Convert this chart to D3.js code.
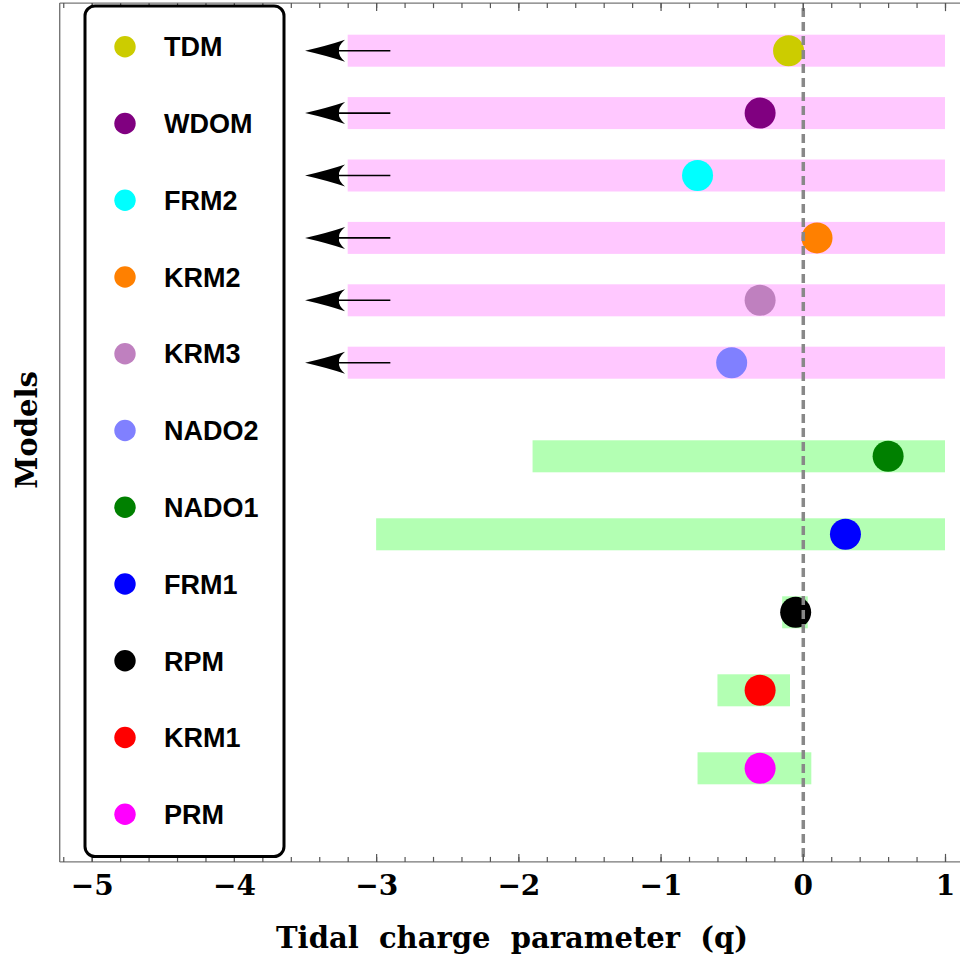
<!DOCTYPE html>
<html>
<head>
<meta charset="utf-8">
<script src="https://cdn.jsdelivr.net/npm/d3@7"></script>
<style>
  body { margin: 0; background: #fff; }
  svg { display: block; }
</style>
</head>
<body>
<svg id="chart"></svg>
<script>
// models, top to bottom
const models = ["TDM", "WDOM", "FRM2", "KRM2", "KRM3", "NADO2", "NADO1", "FRM1", "RPM", "KRM1", "PRM"];
// vertical position of each row (plot units)
const rowPos = [10.2, 9.4, 8.6, 7.8, 7.0, 6.2, 5, 4, 3, 2, 1];
// best fit q
const qBest = [-0.1, -0.3, -0.74, 0.1, -0.3, -0.5, 0.6, 0.3, -0.05, -0.3, -0.3];
// allowed range of q
const qLow = [-3.2, -3.2, -3.2, -3.2, -3.2, -3.2, -1.9, -3.0, -0.145, -0.6, -0.74];
const qHigh = [1, 1, 1, 1, 1, 1, 1, 1, 0.035, -0.09, 0.06];
// range open towards negative q (drawn with an arrow)
const openLow = [true, true, true, true, true, true, false, false, false, false, false];
const arrowFrom = -2.9;
const arrowTo = -3.5;
const pointColors = ["#cccc00", "#800080", "#00ffff", "#ff8000", "#bf80bf", "#8080ff",
                     "#008000", "#0000ff", "#000000", "#ff0000", "#ff00ff"];
const majorTicks = [-5, -4, -3, -2, -1, 0, 1];
const minorTicks = d3.range(-26, 6).map(i => i / 5);

const width = 960;
const height = 965;

const svg = d3.select("#chart").attr("width", width).attr("height", height);

const x = d3.scaleLinear().domain([-5, 1]).range([91.7, 945]);
const y = d3.scaleLinear().domain([1, 5]).range([768.3, 456.3]);

const xMin = -5.225, xMax = 1.115;
const yMin = -0.2, yMax = 10.81;

const rows = models.map((m, i) => ({
  name: m, pos: rowPos[i], best: qBest[i], lo: qLow[i], hi: qHigh[i],
  open: openLow[i], color: pointColors[i]
}));

// range bars
svg.append("g")
  .selectAll("rect")
  .data(rows)
  .enter()
  .append("rect")
  .attr("x", d => x(d.lo))
  .attr("y", d => y(d.pos) - 16)
  .attr("width", d => x(d.hi) - x(d.lo))
  .attr("height", 32)
  .attr("fill", d => d.open ? "#ffc8ff" : "#b3ffb3");

// arrows for open ranges
const arrows = svg.append("g")
  .selectAll("g")
  .data(rows.filter(d => d.open))
  .enter()
  .append("g");

arrows.append("line")
  .attr("x1", x(arrowFrom))
  .attr("x2", x(arrowTo) + 30)
  .attr("y1", d => y(d.pos))
  .attr("y2", d => y(d.pos))
  .attr("stroke", "#000")
  .attr("stroke-width", 1.6);

arrows.append("path")
  .attr("transform", d => `translate(${x(arrowTo)},${y(d.pos)})`)
  .attr("d", "M0,0 Q22,-5 40,-11 Q33,-5 34,0 Q33,5 40,11 Q22,5 0,0 Z")
  .attr("fill", "#000");

// best fit points
svg.append("g")
  .selectAll("circle")
  .data(rows)
  .enter()
  .append("circle")
  .attr("cx", d => x(d.best))
  .attr("cy", d => y(d.pos))
  .attr("r", 15.5)
  .attr("fill", d => d.color);

// q = 0 dashed line
svg.append("line")
  .attr("x1", x(0) + 0.5).attr("x2", x(0) + 0.5)
  .attr("y1", y(yMax) + 5).attr("y2", y(yMin))
  .attr("stroke", "#888")
  .attr("stroke-width", 3.5)
  .attr("stroke-dasharray", "9,5");

// frame
const frame = svg.append("g").attr("fill", "none").attr("stroke", "#777").attr("stroke-width", 1.4);
frame.append("line").attr("x1", x(xMin)).attr("x2", x(xMin)).attr("y1", y(yMax)).attr("y2", y(yMin));
frame.append("line").attr("x1", x(xMin)).attr("x2", x(xMax)).attr("y1", y(yMax)).attr("y2", y(yMax));
frame.append("line").attr("x1", x(xMin)).attr("x2", x(xMax)).attr("y1", y(yMin)).attr("y2", y(yMin));

// bottom axis
const bottomMajor = svg.append("g")
  .attr("transform", `translate(0,${y(yMin)})`)
  .call(d3.axisBottom(x).tickValues(majorTicks).tickSize(-8).tickSizeOuter(0).tickPadding(13).tickFormat(d3.format("d")));
const bottomMinor = svg.append("g")
  .attr("transform", `translate(0,${y(yMin)})`)
  .call(d3.axisBottom(x).tickValues(minorTicks).tickSize(-5).tickSizeOuter(0).tickFormat(""));

// top axis
const topMajor = svg.append("g")
  .attr("transform", `translate(0,${y(yMax)})`)
  .call(d3.axisTop(x).tickValues(majorTicks).tickSize(-8).tickSizeOuter(0).tickFormat(""));
const topMinor = svg.append("g")
  .attr("transform", `translate(0,${y(yMax)})`)
  .call(d3.axisTop(x).tickValues(minorTicks).tickSize(-5).tickSizeOuter(0).tickFormat(""));

[bottomMajor, bottomMinor, topMajor, topMinor].forEach(g => {
  g.select(".domain").remove();
  g.selectAll(".tick line").attr("stroke", "#555").attr("stroke-width", 1.2);
});

bottomMajor.selectAll(".tick text")
  .attr("fill", "#000")
  .style("font-family", "'DejaVu Serif', serif")
  .style("font-weight", "bold")
  .style("font-size", "28px");

// axis titles
svg.append("text")
  .attr("x", 512)
  .attr("y", 948)
  .attr("text-anchor", "middle")
  .style("font-family", "'DejaVu Serif', serif")
  .style("font-weight", "bold")
  .style("font-size", "29px")
  .style("white-space", "pre")
  .text("Tidal  charge  parameter  (q)");

svg.append("text")
  .attr("transform", "translate(37,430) rotate(-90)")
  .attr("text-anchor", "middle")
  .style("font-family", "'DejaVu Serif', serif")
  .style("font-weight", "bold")
  .style("font-size", "29px")
  .text("Models");

// legend
const legendY = d3.scalePoint().domain(models).range([46.7, 814.3]);
const legend = svg.append("g");
legend.append("rect")
  .attr("x", 85)
  .attr("y", 6)
  .attr("width", 199)
  .attr("height", 850.5)
  .attr("rx", 10)
  .attr("fill", "#fff")
  .attr("stroke", "#000")
  .attr("stroke-width", 3);

const items = legend.selectAll(".item")
  .data(rows)
  .enter()
  .append("g")
  .attr("class", "item")
  .attr("transform", d => `translate(0,${legendY(d.name)})`);

items.append("circle")
  .attr("cx", 125)
  .attr("r", 10.7)
  .attr("fill", d => d.color);

items.append("text")
  .attr("x", 164)
  .attr("dy", "0.36em")
  .style("font-family", "'Liberation Sans', Arial, sans-serif")
  .style("font-weight", "bold")
  .style("font-size", "27px")
  .text(d => d.name);
</script>
</body>
</html>
